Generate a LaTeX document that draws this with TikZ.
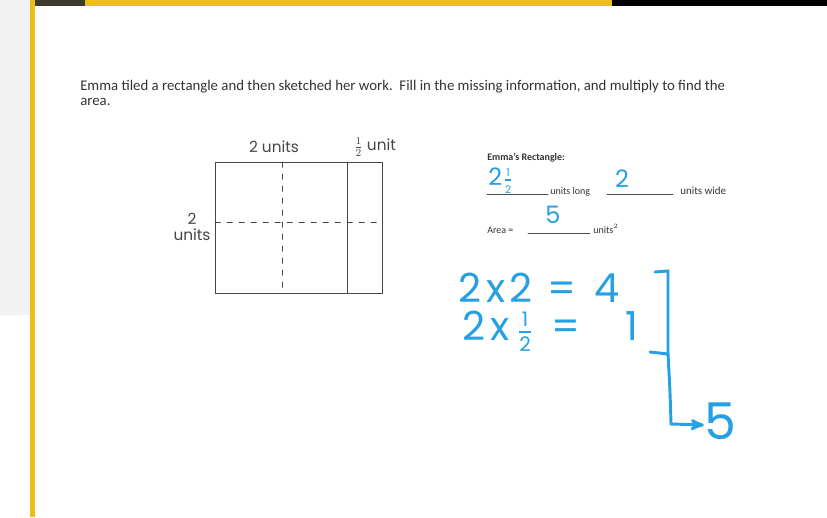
\documentclass[tikz,border=0pt]{standalone}
\usepackage{amsmath}
\usepackage{fontspec}
\setmainfont{Carlito}
\newfontfamily\handfont{Poppins}
\usetikzlibrary{arrows,positioning}

\definecolor{barYellow}{RGB}{236,190,28}
\definecolor{inkBlue}{RGB}{38,160,228}
\definecolor{pencil}{RGB}{70,70,70}

% small stacked half in the hand font
\newcommand{\inkhalf}[2]{\ensuremath{\genfrac{}{}{#2}{1}{\mbox{\handfont\fontsize{#1}{#1}\selectfont 1}}{\mbox{\handfont\fontsize{#1}{#1}\selectfont 2}}}}
\newcommand{\inkx}{\hspace{4pt}x\hspace{3pt}}

\begin{document}
\begin{tikzpicture}[x=0.75pt,y=-0.75pt,>=stealth',line cap=round]

  \tikzstyle{print}=[font=\fontsize{7.5}{10}\selectfont,text=black!80,inner sep=0pt]
  \tikzstyle{sketch}=[draw=pencil,line width=0.6pt]
  \tikzstyle{sketch text}=[font=\handfont\fontsize{11.5}{12}\selectfont,text=pencil,inner sep=0pt]
  \tikzstyle{ink}=[font=\handfont\fontsize{30}{30}\selectfont,text=inkBlue,inner sep=0pt,
                   text height=21pt,text depth=0pt]
  \tikzstyle{small ink}=[font=\handfont\fontsize{18}{18}\selectfont,text=inkBlue,inner sep=0pt]
  \tikzstyle{blank}=[draw=black!70,line width=0.4pt]

  % page and frame
  \fill[white] (0,0) rectangle (827,517);
  \useasboundingbox (0,0) rectangle (827,517);
  \fill[black!5] (0,0) rectangle (30,315);
  \fill[barYellow] (30,0) rectangle (35,517);
  \fill[barYellow] (35,0) rectangle (612,6);
  \fill[black!75!olive] (35,0) rectangle (85,6);
  \fill[black] (612,0) rectangle (827,6);

  % question
  \node[print,anchor=west,font=\fontsize{11.1}{13}\selectfont] (question) at (80,87)
    {Emma tiled a rectangle and then sketched her work.\ \ Fill in the missing information, and multiply to find the};
  \node[print,anchor=west,font=\fontsize{11.1}{13}\selectfont] (area) at (80,102) {area.};

  % sketch of the rectangle
  \draw[sketch] (215,162) rectangle (382,293);
  \draw[sketch] (347,162) -- (347,293);
  \draw[sketch,dashed,dash pattern=on 4pt off 5pt] (282,162) -- (282,293);
  \draw[sketch,dashed,dash pattern=on 4pt off 5pt] (215,222) -- (382,222);
  \node[sketch text] (long) at (274,147) {2 units};
  \node[sketch text] (half) at (375,147) {$\frac{1}{2}$ unit};
  \node[sketch text,align=center] (wide) at (192,227) {2\\units};

  % Emma's rectangle
  \node[print,anchor=west,font=\bfseries\fontsize{7.5}{10}\selectfont] (title) at (487,158) {Emma's Rectangle:};
  \draw[blank] (487,194) -- (548,194);
  \node[print,anchor=base west] (ulong) at (550,194) {units long};
  \draw[blank] (607,194) -- (673,194);
  \node[print,anchor=base west,font=\fontsize{8.2}{10}\selectfont] (uwide) at (680,194) {units wide};
  \node[print,anchor=base west] (areaeq) at (487,233) {Area =};
  \draw[blank] (528,233) -- (590,233);
  \node[print,anchor=base west] (unitsq) at (593,233) {units$^2$};

  \node[small ink,anchor=west] (len) at (488,181) {2\hspace{1pt}\inkhalf{8}{1pt}};
  \node[small ink] (wid) at (622,179) {2};
  \node[small ink] (res) at (553,215) {5};

  % working
  \node[ink,anchor=base west] (eqA) at (458,302) {2\inkx2\hspace{11pt}=\hspace{14pt}4};
  \node[ink,anchor=base west] (eqB) at (462,340) {2\inkx\hspace{3pt}\inkhalf{15}{1.6pt}\hspace{14pt}=\hspace{34pt}1};
  \node[ink,font=\handfont\fontsize{38}{38}\selectfont] (total) at (720,425) {5};

  \coordinate (brTop) at (668,271);
  \coordinate (brBot) at (668,354);
  \draw[inkBlue,line width=2.2pt] (655,272) -- (brTop) -- (brBot) -- (650,352);
  \draw[inkBlue,line width=2.2pt,->] (brBot) .. controls (670,390) .. (671,424) -- (total.west);

\end{tikzpicture}
\end{document}
